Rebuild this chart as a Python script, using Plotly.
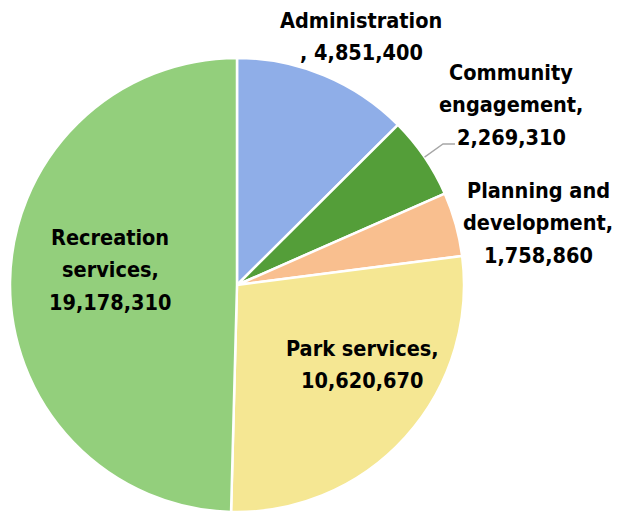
import math
import plotly.graph_objects as go

# Budget by program area
categories = [
    "Administration",
    "Community engagement",
    "Planning and development",
    "Park services",
    "Recreation services",
]
values = [4851400, 2269310, 1758860, 10620670, 19178310]
colors = ["#8FAEE8", "#549E39", "#F9BF8F", "#F5E793", "#93CF7C"]

# Label text split into lines as displayed
label_lines = [
    ["Administration", ", {v}"],
    ["Community", "engagement,", "{v}"],
    ["Planning and", "development,", "{v}"],
    ["Park services,", "{v}"],
    ["Recreation", "services,", "{v}"],
]

W, H = 619, 512
# pie placement in pixels
cx, cy, r = 237, 285, 227

# label anchor (centre x, first-line y) in pixels, and line pitch
label_pos = [(361, 20), (511, 72), (538, 190), (362, 348), (110, 237)]
pitch = 32.5

fig = go.Figure(
    go.Pie(
        labels=categories,
        values=values,
        sort=False,
        direction="clockwise",
        rotation=0,
        marker=dict(colors=colors, line=dict(color="white", width=2.5)),
        textinfo="none",
        hoverinfo="label+value",
        showlegend=False,
        domain=dict(x=[(cx - r) / W, (cx + r) / W], y=[(H - cy - r) / H, (H - cy + r) / H]),
    )
)

font = dict(family="DejaVu Sans Condensed, Liberation Sans Narrow, sans-serif",
            size=21.5, color="#000000", weight="bold")

for cat, v, lines, (px, py) in zip(categories, values, label_lines, label_pos):
    for i, line in enumerate(lines):
        fig.add_annotation(
            x=px / W, y=1 - (py + i * pitch) / H, xref="paper", yref="paper",
            text=line.format(v=f"{v:,}"), showarrow=False,
            xanchor="center", yanchor="middle", align="center", font=font,
        )

# leader line from the community engagement slice to its label
total = sum(values)
mid = (values[0] + values[1] / 2) / total * 2 * math.pi
ex, ey = cx + r * math.sin(mid), cy - r * math.cos(mid)
pts = [(ex, ey), (443, 144), (455, 144)]
path = "M " + " L ".join(f"{x / W},{1 - y / H}" for x, y in pts)
fig.add_shape(type="path", path=path, xref="paper", yref="paper",
              line=dict(color="#A6A6A6", width=1.3))

fig.update_layout(
    width=W, height=H,
    margin=dict(l=0, r=0, t=0, b=0),
    paper_bgcolor="white",
    plot_bgcolor="white",
)

fig.write_html("out.html")
